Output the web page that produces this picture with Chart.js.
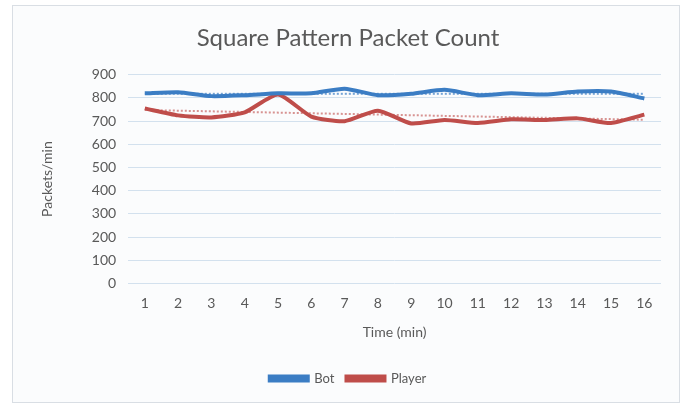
<!DOCTYPE html>
<html>
<head>
<meta charset="utf-8">
<script src="https://cdn.jsdelivr.net/npm/chart.js@4"></script>
<style>
    body { margin: 0; background: #ffffff; }
    #frame {
        position: absolute; left: 12px; top: 5px; width: 666px; height: 396px;
        border: 1px solid #d9dee4; background: #fbfcfd;
    }
    #wrap { position: absolute; left: 0; top: 0; width: 689px; height: 408px; }
</style>
</head>
<body>
<div id="frame"></div>
<div id="wrap"><canvas id="chart" width="689" height="408"></canvas></div>
<script>
// values
const minutes = ['1', '2', '3', '4', '5', '6', '7', '8', '9', '10', '11', '12', '13', '14', '15', '16'];
const botCounts = [820, 825, 808, 812, 820, 820, 840, 812, 818, 835, 812, 820, 815, 828, 828, 798];
const playerCounts = [755, 725, 716, 738, 815, 720, 700, 745, 690, 705, 692, 708, 705, 712, 692, 728];
// trendline end points (first and last minute)
const botTrend = [818, 818];
const playerTrend = [748, 706];

const blue = '#3b7dc4';
const red = '#bf4d4a';
const grey = '#595959';

function trendData(ends) {
    return [{ x: minutes[0], y: ends[0] }, { x: minutes[minutes.length - 1], y: ends[1] }];
}

const ctx = document.getElementById('chart').getContext('2d');
new Chart(ctx, {
    type: 'line',
    data: {
        labels: minutes,
        datasets: [
            {
                label: 'Bot',
                data: botCounts,
                borderColor: blue,
                backgroundColor: blue,
                borderWidth: 4,
                pointRadius: 0,
                tension: 0.2,
            },
            {
                label: 'Player',
                data: playerCounts,
                borderColor: red,
                backgroundColor: red,
                borderWidth: 4,
                pointRadius: 0,
                tension: 0.2,
            },
            {
                label: 'botTrend',
                data: trendData(botTrend),
                borderColor: 'rgba(59,125,196,0.7)',
                borderWidth: 2,
                borderDash: [2, 2],
                pointRadius: 0,
            },
            {
                label: 'playerTrend',
                data: trendData(playerTrend),
                borderColor: 'rgba(191,77,74,0.6)',
                borderWidth: 2,
                borderDash: [2, 2],
                pointRadius: 0,
            },
        ],
    },
    options: {
        responsive: false,
        animation: false,
        layout: {
            padding: { left: 35, right: 28, top: 20, bottom: 13 },
        },
        plugins: {
            title: {
                display: true,
                text: 'Square Pattern Packet Count',
                color: grey,
                font: { family: 'Lato', size: 24, weight: 'normal' },
                padding: { top: 4, bottom: 22 },
            },
            legend: {
                position: 'bottom',
                labels: {
                    color: grey,
                    font: { family: 'Lato', size: 13 },
                    boxWidth: 38,
                    boxHeight: 4,
                    padding: 12,
                    filter: (item) => item.text === 'Bot' || item.text === 'Player',
                },
            },
            tooltip: { enabled: false },
        },
        scales: {
            x: {
                offset: true,
                grid: { display: false },
                border: { display: false },
                ticks: { color: grey, font: { family: 'Lato', size: 14 }, padding: 4 },
                title: {
                    display: true,
                    text: 'Time (min)',
                    color: grey,
                    font: { family: 'Lato', size: 14 },
                    padding: { top: 8, bottom: 19 },
                },
            },
            y: {
                min: 0,
                max: 900,
                ticks: { stepSize: 100, color: grey, font: { family: 'Lato', size: 14 }, padding: 12 },
                grid: { color: '#d3e1ee', drawTicks: false },
                border: { display: false },
                title: {
                    display: true,
                    text: 'Packets/min',
                    color: grey,
                    font: { family: 'Lato', size: 14 },
                    padding: { bottom: 24 },
                },
            },
        },
    },
});
</script>
</body>
</html>
